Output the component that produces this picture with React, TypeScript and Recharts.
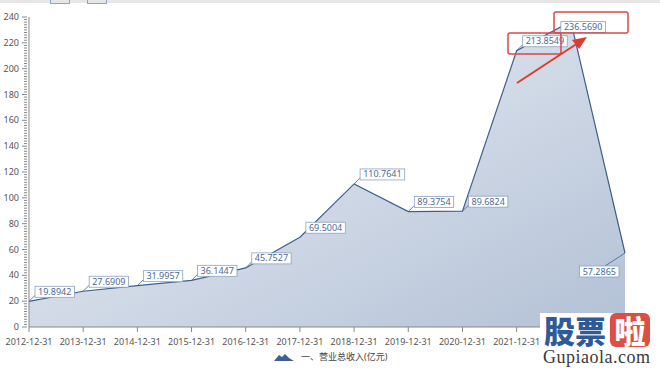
import { AreaChart, Area, XAxis, YAxis, LabelList } from 'recharts';

const dates = [
  '2012-12-31', '2013-12-31', '2014-12-31', '2015-12-31', '2016-12-31', '2017-12-31',
  '2018-12-31', '2019-12-31', '2020-12-31', '2021-12-31', '2022-12-31', '2023-03-31',
];
const revenue = [
  19.8942, 27.6909, 31.9957, 36.1447, 45.7527, 69.5004,
  110.7641, 89.3754, 89.6824, 213.8549, 236.569, 57.2865,
];
const labels = [
  '19.8942', '27.6909', '31.9957', '36.1447', '45.7527', '69.5004',
  '110.7641', '89.3754', '89.6824', '213.8549', '236.5690', '57.2865',
];
const yTicks = Array.from({ length: 121 }, (_, i) => i * 2);

const data = dates.map((d, i) => ({ date: d, value: revenue[i], label: labels[i] }));

const font = '"Noto Sans", "Noto Sans CJK SC", sans-serif';
const lineColor = '#3f5f8f';

function YTick(props: any) {
  const { x, y, payload } = props;
  const v = payload.value;
  const major = v % 20 === 0;
  return (
    <g>
      <line x1={x + 6} x2={x + 6 - (major ? 5 : 3)} y1={y} y2={y} stroke="#888" strokeWidth={1} />
      {major && (
        <text x={x - 2} y={y + 3} textAnchor="end" fontSize={9} fill="#555" fontFamily={font}>
          {v}
        </text>
      )}
    </g>
  );
}

function ValueLabel(props: any) {
  const { x, y, index } = props;
  const text = labels[index];
  const w = text.length * 5.2 + 3;
  const h = 11;
  let bx = x + 6;
  let by = y - 4 - h;
  let lx = x + 6;
  let ly = y - 6;
  if (index === labels.length - 1) {
    bx = x - 6 - w;
    by = y + 13;
    lx = x - 20;
    ly = y + 13;
  } else if (index === 10) {
    bx = x - 10;
    by = y;
    lx = x - 10;
    ly = y + 5;
  }
  return (
    <g>
      <line x1={x} y1={y} x2={lx} y2={ly} stroke={lineColor} strokeWidth={0.8} />
      <rect x={bx} y={by} width={w} height={h} fill="#fff" stroke="#8ea1bd" strokeWidth={0.8} />
      <text x={bx + w / 2} y={by + 8.5} textAnchor="middle" fontSize={9} fill="#4d6a93" fontFamily={font}>
        {text}
      </text>
    </g>
  );
}

export default function App() {
  return (
    <div style={{ position: 'absolute', left: 0, top: 0, width: 660, height: 379, background: '#fff', overflow: 'hidden' }}>
      <AreaChart
        width={660}
        height={379}
        data={data}
        margin={{ top: 17, right: 35, left: 0, bottom: 28 }}
      >
        <defs>
          <linearGradient id="fillGrad" x1="0" y1="0" x2="1" y2="1">
            <stop offset="0%" stopColor="#f0f3f7" />
            <stop offset="100%" stopColor="#b3c1d6" />
          </linearGradient>
        </defs>
        <XAxis
          dataKey="date"
          height={24}
          stroke="#888"
          tickSize={5}
          tickMargin={7}
          tick={{ fontSize: 9, fill: '#555', fontFamily: font }}
          interval={0}
        />
        <YAxis
          width={29}
          domain={[0, 240]}
          ticks={yTicks}
          interval={0}
          stroke="#888"
          tickLine={false}
          tick={<YTick />}
        />
        <Area
          type="linear"
          dataKey="value"
          stroke={lineColor}
          strokeWidth={1.2}
          fill="url(#fillGrad)"
          fillOpacity={1}
          dot={false}
          activeDot={false}
          isAnimationActive={false}
        >
          <LabelList dataKey="value" content={<ValueLabel />} />
        </Area>
      </AreaChart>

      {/* legend */}
      <div style={{ position: 'absolute', left: 273, top: 350, display: 'flex', alignItems: 'center', fontFamily: font, fontSize: 9, color: '#444' }}>
        <svg width={22} height={10}>
          <path d="M1,9 L6,3 L9,5 L12,2 L16,6 L21,9 Z" fill="#3f5f8f" />
        </svg>
        <span style={{ marginLeft: 6 }}>一、营业总收入(亿元)</span>
      </div>

      {/* screenshot toolbar strip */}
      <div style={{ position: 'absolute', left: 0, top: 0, width: 660, height: 3, background: '#e6e6e6' }} />
      <div style={{ position: 'absolute', left: 50, top: -3, width: 18, height: 5, border: '1px solid #8aa6c8' }} />
      <div style={{ position: 'absolute', left: 87, top: -3, width: 18, height: 5, border: '1px solid #8aa6c8' }} />

      {/* annotation marks */}
      <svg style={{ position: 'absolute', left: 0, top: 0 }} width={660} height={379}>
        <rect x={508} y={33} width={53} height={21} rx={2} fill="none" stroke="#d9484a" strokeWidth={1.5} />
        <rect x={554} y={12} width={74} height={21} rx={2} fill="none" stroke="#d9484a" strokeWidth={1.5} />
        <line x1={517} y1={83} x2={578} y2={43} stroke="#e03a30" strokeWidth={2} />
        <path d="M587,37 L572,40 L579,49 Z" fill="#e03a30" />
      </svg>

      {/* watermark */}
      <div style={{ position: 'absolute', left: 540, top: 313, width: 120, height: 66, background: '#fff' }} />
      <div style={{ position: 'absolute', left: 544, top: 313, display: 'flex', alignItems: 'center', fontFamily: '"Noto Sans CJK SC"', fontWeight: 900, fontSize: 31, lineHeight: '34px' }}>
        <span style={{ color: '#2f5a96' }}>股票</span>
        <span style={{ marginLeft: 4, background: '#dd4f44', color: '#fff', borderRadius: 6, width: 40, height: 34, textAlign: 'center', display: 'inline-block' }}>啦</span>
      </div>
      <div style={{ position: 'absolute', left: 543, top: 347, fontFamily: '"Liberation Serif", serif', fontSize: 18, color: '#3a3a3a', letterSpacing: 0.5 }}>
        Gupiaola.com
      </div>
    </div>
  );
}
